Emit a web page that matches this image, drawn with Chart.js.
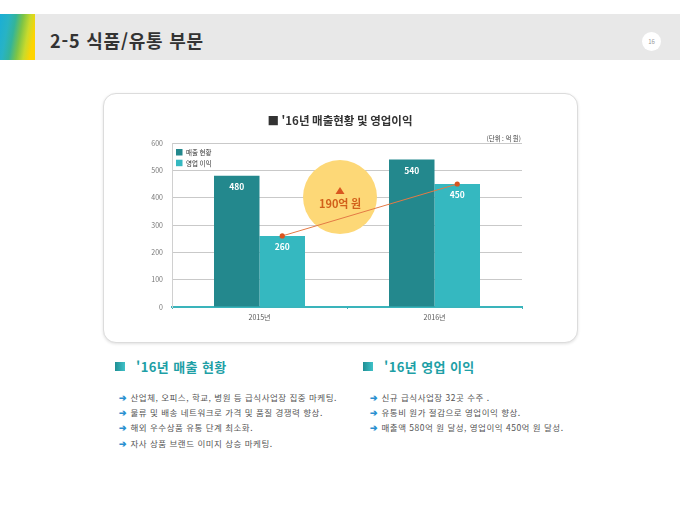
<!DOCTYPE html>
<html lang="ko">
<head>
<meta charset="utf-8">
<script src="https://cdn.jsdelivr.net/npm/chart.js@4.4.1/dist/chart.umd.min.js"></script>
<style>
  html, body { margin:0; padding:0; background:#fff; }
  body { width:680px; height:510px; position:relative; overflow:hidden; font-family:"Noto Sans CJK KR","Noto Sans",sans-serif; }
  .band { position:absolute; left:0; top:14px; width:680px; height:46px; background:#e8e8e8; }
  .stripes { position:absolute; left:0; top:14px; width:35px; height:46px;
    background:linear-gradient(100deg,#1aaed6 0%,#28b3c4 22%,#33b49a 38%,#7cc447 55%,#c9da2c 72%,#ffd400 88%,#ffd400 100%); }
  .htitle { position:absolute; left:50px; top:27px; font-size:18px; font-weight:bold; color:#333; line-height:26px; white-space:nowrap; letter-spacing:0.8px; }
  .pnum { position:absolute; left:642px; top:32px; width:19px; height:19px; border-radius:50%; background:#fff; color:#999; font-size:6px; text-align:center; line-height:19px; }
  .box { position:absolute; left:103px; top:93px; width:473px; height:248px; border:1px solid #dcdcdc; border-radius:13px; box-shadow:0 1px 3px rgba(0,0,0,0.12); background:#fff; }
  #wrap { position:absolute; left:104px; top:94px; width:472px; height:247px; }
  .sq { position:absolute; width:10px; height:9px; background:linear-gradient(90deg,#1f8f94,#3fc1c8); }
  .h2 { position:absolute; font-size:13px; font-weight:bold; color:#1e9fa6; white-space:nowrap; line-height:18px; letter-spacing:0.4px; }
  .bl { position:absolute; font-size:8.5px; color:#555; white-space:nowrap; line-height:10px; letter-spacing:0.5px; }
  .bl span { color:#2a8fd0; margin-right:3px; font-weight:bold; }
</style>
</head>
<body>
<div class="band"></div>
<div class="stripes"></div>
<div class="htitle">2-5 식품/유통 부문</div>
<div class="pnum">16</div>
<div class="box"></div>
<div id="wrap"><canvas id="c" width="472" height="247"></canvas></div>

<div class="sq" style="left:115px;top:362px;"></div>
<div class="h2" style="left:136px;top:358px;">'16년 매출 현황</div>
<div class="sq" style="left:363px;top:362px;"></div>
<div class="h2" style="left:384px;top:358px;">'16년 영업 이익</div>

<div class="bl" style="left:119px;top:392px;"><span>➔</span>산업체, 오피스, 학교, 병원 등 급식사업장 집중 마케팅.</div>
<div class="bl" style="left:119px;top:407px;"><span>➔</span>물류 및 배송 네트워크로 가격 및 품질 경쟁력 향상.</div>
<div class="bl" style="left:119px;top:422px;"><span>➔</span>해외 우수상품 유통 단계 최소화.</div>
<div class="bl" style="left:119px;top:438px;"><span>➔</span>자사 상품 브랜드 이미지 상승 마케팅.</div>
<div class="bl" style="left:370px;top:392px;"><span>➔</span>신규 급식사업장 32곳 수주 .</div>
<div class="bl" style="left:370px;top:407px;"><span>➔</span>유통비 원가 절감으로 영업이익 향상.</div>
<div class="bl" style="left:370px;top:422px;"><span>➔</span>매출액 580억 원 달성, 영업이익 450억 원 달성.</div>

<script>
const categories = ["2015년", "2016년"];
const salesValues = [480, 540];
const profitValues = [260, 450];
const seriesNames = ["매출 현황", "영업 이익"];
const yTicks = [0, 100, 200, 300, 400, 500, 600];
const chartTitle = "■ '16년 매출현황 및 영업이익";
const unitLabel = "(단위 : 억 원)";
const annotPos = [0.46, 402]; // category position, value position of the callout bubble

const FONT = "'Noto Sans CJK KR','Noto Sans',sans-serif";
const DARK = "#23888d";
const LIGHT = "#35b8c0";
const AXIS_TEAL = "#3ab4bb";

const alignLine = {
  id: 'alignLine',
  afterDatasetsUpdate(chart) {
    const lineMeta = chart.getDatasetMeta(2);
    const barMeta = chart.getDatasetMeta(1);
    lineMeta.data.forEach((pt, i) => { if (barMeta.data[i]) pt.x = barMeta.data[i].x; });
  }
};

const callout = {
  id: 'callout',
  beforeDatasetsDraw(chart) {
    const {ctx, scales} = chart;
    const cx = scales.x.getPixelForValue(annotPos[0]);
    const cy = scales.y.getPixelForValue(annotPos[1]);
    ctx.save();
    ctx.beginPath();
    ctx.arc(cx, cy, 37, 0, Math.PI * 2);
    ctx.fillStyle = "#fdd877";
    ctx.fill();
    ctx.fillStyle = "#d9561f";
    ctx.beginPath();
    ctx.moveTo(cx, cy - 10);
    ctx.lineTo(cx + 4.5, cy - 3);
    ctx.lineTo(cx - 4.5, cy - 3);
    ctx.closePath();
    ctx.fill();
    const diff = profitValues[1] - profitValues[0];
    ctx.font = "bold 11px " + FONT;
    ctx.fillStyle = "#d2601a";
    ctx.textAlign = "center";
    ctx.textBaseline = "middle";
    ctx.fillText(diff + "억 원", cx, cy + 7);
    ctx.restore();
  }
};

const decorations = {
  id: 'decorations',
  afterDatasetsDraw(chart) {
    const {ctx, chartArea} = chart;
    ctx.save();
    [0, 1].forEach(di => {
      const meta = chart.getDatasetMeta(di);
      const vals = chart.data.datasets[di].data;
      meta.data.forEach((bar, i) => {
        ctx.font = "bold 8.5px " + FONT;
        ctx.fillStyle = "#ffffff";
        ctx.textAlign = "center";
        ctx.textBaseline = "middle";
        ctx.fillText(String(vals[i]), bar.x, bar.y + 11);
      });
    });
    ctx.font = "bold 11.5px " + FONT;
    ctx.fillStyle = "#333";
    ctx.textAlign = "center";
    ctx.textBaseline = "middle";
    ctx.fillText(chartTitle, chart.width / 2, 27);
    ctx.font = "6.5px " + FONT;
    ctx.fillStyle = "#444";
    ctx.textAlign = "right";
    ctx.fillText(unitLabel, chartArea.right - 1, chartArea.top - 4);
    const colors = [DARK, LIGHT];
    seriesNames.forEach((name, i) => {
      const y = chartArea.top + 6 + i * 10.7;
      ctx.fillStyle = colors[i];
      ctx.fillRect(chartArea.left + 4, y, 6.5, 6.5);
      ctx.font = "6.5px " + FONT;
      ctx.fillStyle = "#333";
      ctx.textAlign = "left";
      ctx.fillText(name, chartArea.left + 14, y + 3.5);
    });
    ctx.restore();
  }
};

new Chart(document.getElementById('c'), {
  type: 'bar',
  data: {
    labels: categories,
    datasets: [
      { label: seriesNames[0], data: salesValues, backgroundColor: DARK, categoryPercentage: 0.52, barPercentage: 1.0, order: 1 },
      { label: seriesNames[1], data: profitValues, backgroundColor: LIGHT, categoryPercentage: 0.52, barPercentage: 1.0, order: 1 },
      { type: 'line', label: '추세', data: profitValues, borderColor: "#e47a45", borderWidth: 1, tension: 0,
        pointRadius: 2.6, pointBackgroundColor: "#d9541e", pointBorderWidth: 0, fill: false, order: 0 }
    ]
  },
  options: {
    responsive: false,
    animation: false,
    devicePixelRatio: 1,
    layout: { padding: { left: 38, right: 54, top: 49, bottom: 14 } },
    plugins: { legend: { display: false }, tooltip: { enabled: false }, title: { display: false } },
    scales: {
      x: {
        grid: { display: true, drawOnChartArea: false, drawTicks: true, tickLength: 2, color: AXIS_TEAL, offset: true },
        border: { display: true, color: AXIS_TEAL, width: 2 },
        ticks: { font: { family: FONT, size: 7 }, color: "#555", padding: 4 },
        afterFit(s) { s.height = 20; }
      },
      y: {
        min: 0, max: 600,
        afterBuildTicks(s) { s.ticks = yTicks.map(v => ({ value: v })); },
        grid: { color: "#c9c9c9", lineWidth: 1, drawTicks: false },
        border: { display: true, color: "#d0d0d0", width: 1 },
        ticks: { font: { family: FONT, size: 7 }, color: "#777", padding: 9 },
        afterFit(s) { s.width = 30; }
      }
    }
  },
  plugins: [alignLine, callout, decorations]
});
</script>
</body>
</html>
